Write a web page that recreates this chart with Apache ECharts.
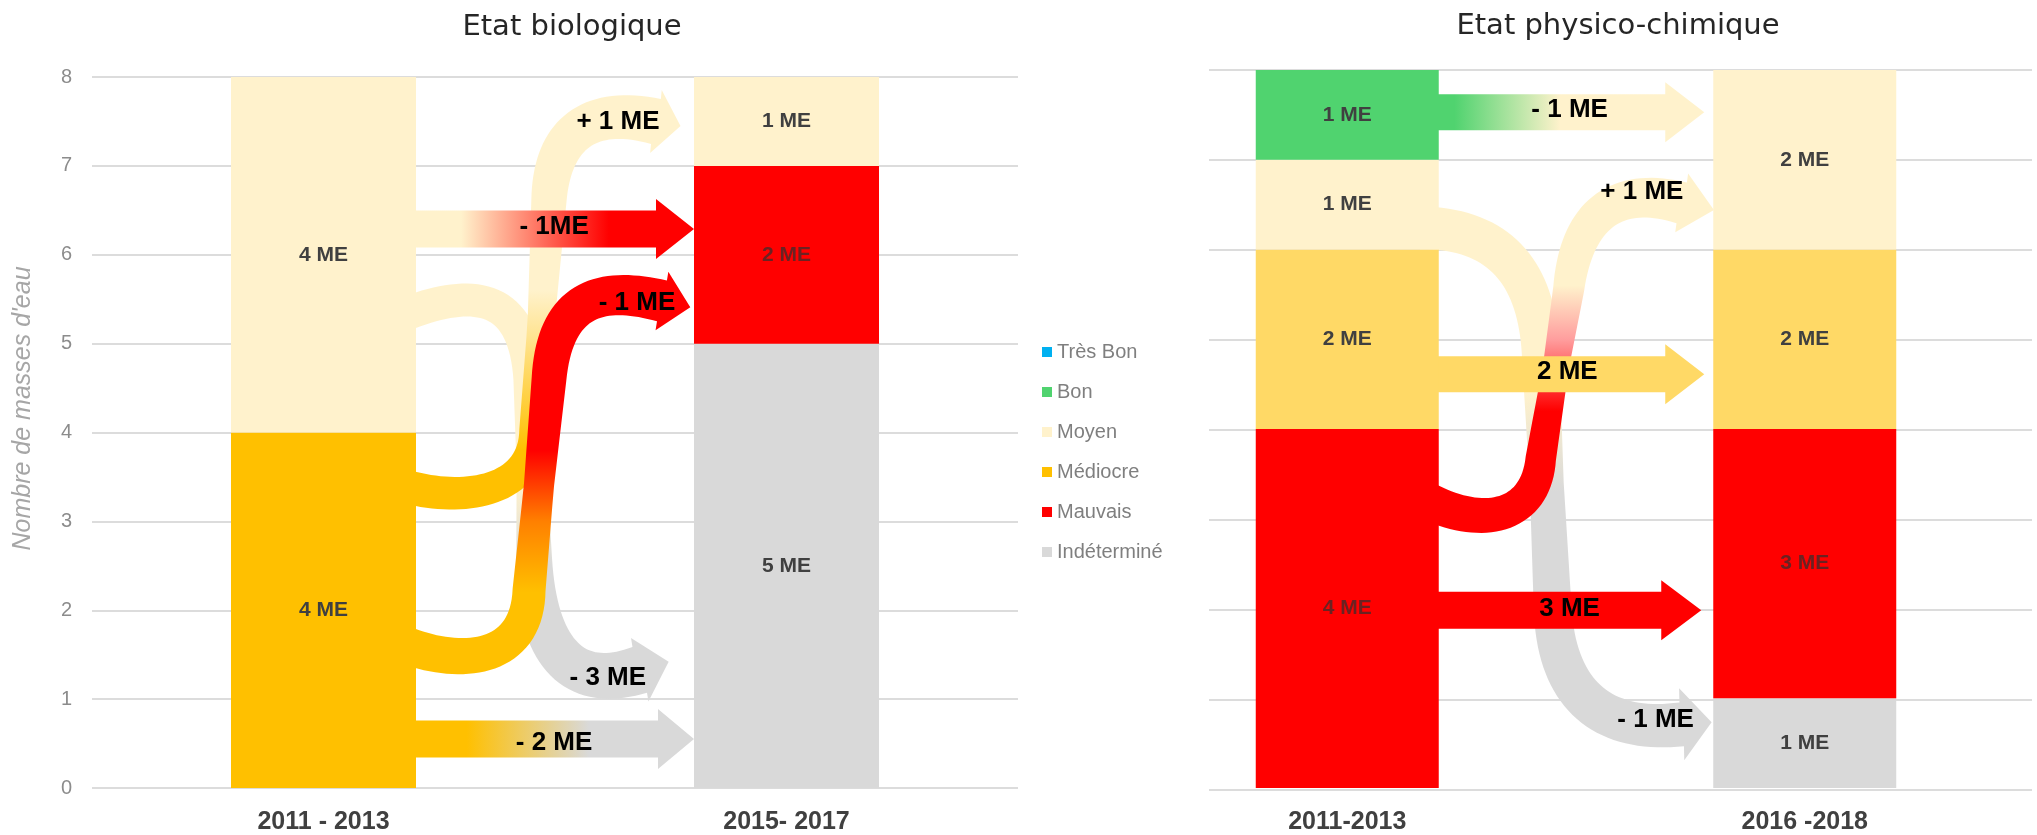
<!DOCTYPE html>
<html>
<head>
<meta charset="utf-8">
<script src="https://cdn.jsdelivr.net/npm/echarts/dist/echarts.min.js"></script>
<style>
  html, body { margin: 0; padding: 0; background: #fff; }
  #main { width: 2037px; height: 835px; }
</style>
</head>
<body>
<div id="main"></div>
<script>
// categories
var bioCategories = ['2011 - 2013', '2015- 2017'];
var physCategories = ['2011-2013', '2016 -2018'];
var classNames = ['Très Bon', 'Bon', 'Moyen', 'Médiocre', 'Mauvais', 'Indéterminé'];

// Etat biologique : nombre de masses d'eau par classe
var bioTresBon = [0, 0];
var bioBon = [0, 0];
var bioMoyen = [4, 1];
var bioMediocre = [4, 0];
var bioMauvais = [0, 2];
var bioIndetermine = [0, 5];

// Etat physico-chimique
var physTresBon = [0, 0];
var physBon = [1, 0];
var physMoyen = [1, 2];
var physMediocre = [2, 2];
var physMauvais = [4, 3];
var physIndetermine = [0, 1];

// libellés des flèches d'évolution (ordre de dessin)
var bioFlowLabels = ['- 3 ME', '+ 1 ME', '- 1 ME', '- 1ME', '- 2 ME'];
var physFlowLabels = ['- 1 ME', '+ 1 ME', '- 1 ME', '2 ME', '3 ME'];

var FONT = "'Liberation Sans', Arial, sans-serif";
var colors = {
  'Très Bon': '#00B0F0', 'Bon': '#50D36F', 'Moyen': '#FFF2CC',
  'Médiocre': '#FFC000', 'Mauvais': '#FF0000', 'Indéterminé': '#D9D9D9'
};
var CREAM = '#FFF2CC', GRAY = '#D9D9D9', YEL = '#FFC000', RED = '#FF0000';

// tracé des flèches : x en unités de catégorie (0 = barre 1, 1 = barre 2), y en nombre de ME
var bioArrows = [
  {kind: 'curve', path: [[0.16, 5.3], ['C', [0.315, 5.63], [0.433, 5.61], [0.444, 4.6]], ['L', [0.455, 2.57]], ['C', [0.461, 1.44], [0.552, 1.10], [0.683, 1.33]]],
   widths: [34, 30, 48], head: [33, 30], grad: {dir: 'y', stops: [[3.4, CREAM], [2.5, GRAY]]}, text: [0.614, 1.24]},
  {kind: 'curve', path: [[0.16, 3.42], ['C', [0.29, 3.2], [0.455, 3.3], [0.455, 4.03]], ['L', [0.487, 6.62]], ['C', [0.494, 7.30], [0.5625, 7.69], [0.718, 7.5]]],
   widths: [34, 27, 46], head: [32, 25], grad: {dir: 'y', stops: [[3.8, YEL], [5.6, CREAM]]}, text: [0.636, 7.49]},
  {kind: 'curve', path: [[0.16, 1.64], ['C', [0.29, 1.36], [0.44, 1.40], [0.444, 2.23]], ['L', [0.487, 4.6]], ['C', [0.5, 5.5], [0.595, 5.66], [0.731, 5.48]]],
   widths: [38, 30, 42], head: [30, 29], grad: {dir: 'y', stops: [[2.2, YEL], [3.0, '#FF8000'], [3.8, RED]]}, text: [0.677, 5.46]},
  {kind: 'straight', v: 6.29, body: 37, head: [30, 38], gap: 0, grad: {dir: 'x', stops: [[0.18, CREAM], [0.7, RED]]}, text: [0.498, 6.31]},
  {kind: 'straight', v: 0.55, body: 37, head: [30, 36], gap: 0, grad: {dir: 'x', stops: [[0.2, YEL], [0.63, GRAY]]}, text: [0.498, 0.51]}
];
var physArrows = [
  {kind: 'curve', path: [[0.16, 6.24], ['C', [0.336, 6.24], [0.419, 5.72], [0.423, 4.78]], ['L', [0.449, 2.0]], ['C', [0.458, 1.0], [0.565, 0.61], [0.731, 0.71]]],
   widths: [43, 34, 44], head: [36, 30], grad: {dir: 'y', stops: [[4.4, CREAM], [3.3, GRAY]]}, text: [0.674, 0.76]},
  {kind: 'curve', path: [[0.16, 3.24], ['C', [0.292, 2.87], [0.412, 3.0], [0.423, 3.67]], ['L', [0.484, 5.56]], ['C', [0.502, 6.39], [0.587, 6.72], [0.731, 6.52]]],
   widths: [38, 26, 42], head: [30, 33], grad: {dir: 'y', stops: [[4.2, RED], [5.0, '#FF9E9E'], [5.6, CREAM]]}, text: [0.644, 6.64]},
  {kind: 'straight', v: 7.53, body: 36, head: [30, 39], gap: 9, grad: {dir: 'x', stops: [[0.08, '#50D36F'], [0.47, CREAM]]}, text: [0.486, 7.56]},
  {kind: 'straight', v: 4.61, body: 36, head: [30, 39], gap: 9, grad: {dir: 'x', stops: [[0, '#FFD966'], [1, '#FFD966']]}, text: [0.481, 4.64]},
  {kind: 'straight', v: 1.98, body: 37, head: [30, 40], gap: 12, grad: {dir: 'x', stops: [[0, RED], [1, RED]]}, text: [0.486, 2.0]}
];

function curvePoints(route, P) {
  var pts = [], cur = P(route.path[0]), i, k, t, u;
  pts.push(cur);
  for (i = 1; i < route.path.length; i++) {
    var seg = route.path[i];
    if (seg[0] === 'L') {
      var b = P(seg[1]);
      for (k = 1; k <= 10; k++) {
        t = k / 10;
        pts.push([cur[0] + (b[0] - cur[0]) * t, cur[1] + (b[1] - cur[1]) * t]);
      }
      cur = b;
    } else {
      var c1 = P(seg[1]), c2 = P(seg[2]), e = P(seg[3]);
      for (k = 1; k <= 36; k++) {
        t = k / 36; u = 1 - t;
        pts.push([
          u * u * u * cur[0] + 3 * u * u * t * c1[0] + 3 * u * t * t * c2[0] + t * t * t * e[0],
          u * u * u * cur[1] + 3 * u * u * t * c1[1] + 3 * u * t * t * c2[1] + t * t * t * e[1]
        ]);
      }
      cur = e;
    }
  }
  var len = [0];
  for (i = 1; i < pts.length; i++) {
    len.push(len[i - 1] + Math.hypot(pts[i][0] - pts[i - 1][0], pts[i][1] - pts[i - 1][1]));
  }
  var total = len[len.length - 1], w = route.widths;
  function widthAt(s) {
    var f = s / total;
    return f < 0.5 ? w[0] + (w[1] - w[0]) * f * 2 : w[1] + (w[2] - w[1]) * (f - 0.5) * 2;
  }
  var left = [], right = [];
  for (i = 0; i < pts.length; i++) {
    var a = pts[Math.max(0, i - 1)], bb = pts[Math.min(pts.length - 1, i + 1)];
    var tx = bb[0] - a[0], ty = bb[1] - a[1], tl = Math.hypot(tx, ty) || 1;
    tx /= tl; ty /= tl;
    var hw = widthAt(len[i]) / 2;
    left.push([pts[i][0] - ty * hw, pts[i][1] + tx * hw]);
    right.push([pts[i][0] + ty * hw, pts[i][1] - tx * hw]);
  }
  var end = pts[pts.length - 1], prev = pts[pts.length - 4];
  var dx = end[0] - prev[0], dy = end[1] - prev[1], dl = Math.hypot(dx, dy);
  dx /= dl; dy /= dl;
  var H = route.head[0], L = route.head[1];
  var head = [[end[0] - dy * H, end[1] + dx * H], [end[0] + dx * L, end[1] + dy * L], [end[0] + dy * H, end[1] - dx * H]];
  return left.concat(head, right.reverse());
}

function gradient(x, y, x2, y2, stops) {
  return {type: 'linear', x: x, y: y, x2: x2, y2: y2, global: true,
    colorStops: stops.map(function (s) { return {offset: s[0], color: s[1]}; })};
}

function arrowRenderer(routes, labels, barW) {
  return function (params, api) {
    var r = routes[params.dataIndex];
    var c0 = api.coord([0, 0]), c1 = api.coord([1, 0]);
    var span = c1[0] - c0[0];
    function P(pt) { return [c0[0] + pt[0] * span, api.coord([0, pt[1]])[1]]; }
    var points, fill;
    if (r.kind === 'straight') {
      var y = api.coord([0, r.v])[1];
      var sx = c0[0] + barW / 2 - 6, tip = c1[0] - barW / 2 - r.gap;
      var hx = tip - r.head[1], hb = r.body / 2, H = r.head[0];
      points = [[sx, y - hb], [hx, y - hb], [hx, y - H], [tip, y], [hx, y + H], [hx, y + hb], [sx, y + hb]];
      fill = gradient(sx, 0, tip, 0, r.grad.stops);
    } else {
      points = curvePoints(r, P);
      var st = r.grad.stops;
      var ya = api.coord([0, st[0][0]])[1], yb = api.coord([0, st[st.length - 1][0]])[1];
      fill = gradient(0, ya, 0, yb, st.map(function (s) {
        return [(api.coord([0, s[0]])[1] - ya) / (yb - ya), s[1]];
      }));
    }
    var tp = P(r.text);
    return {
      type: 'group',
      children: [
        {type: 'polygon', shape: {points: points}, style: {fill: fill}},
        {type: 'text', z2: 100, style: {
          text: labels[params.dataIndex], x: tp[0], y: tp[1],
          align: 'center', verticalAlign: 'middle',
          font: 'bold 26px ' + FONT, fill: '#000'
        }}
      ]
    };
  };
}

function barSeries(name, data, axisIdx, stack, barW, color) {
  return {
    name: name, type: 'bar', stack: stack, data: data, z: 3,
    xAxisIndex: axisIdx, yAxisIndex: axisIdx, barWidth: barW,
    itemStyle: {color: color},
    label: {
      show: true, position: 'inside',
      formatter: function (p) { return p.value ? p.value + ' ME' : ''; },
      color: name === 'Mauvais' ? '#6b2222' : '#404040',
      fontFamily: FONT, fontWeight: 'bold', fontSize: 21
    }
  };
}

var series = [];
// empilement du bas vers le haut
[['Indéterminé', bioIndetermine], ['Mauvais', bioMauvais], ['Médiocre', bioMediocre],
 ['Moyen', bioMoyen], ['Bon', bioBon], ['Très Bon', bioTresBon]].forEach(function (d) {
  series.push(barSeries(d[0], d[1], 0, 'bio', 185, colors[d[0]]));
});
[['Indéterminé', physIndetermine], ['Mauvais', physMauvais], ['Médiocre', physMediocre],
 ['Moyen', physMoyen], ['Bon', physBon], ['Très Bon', physTresBon]].forEach(function (d) {
  var c = d[0] === 'Médiocre' ? '#FFD966' : colors[d[0]];
  series.push(barSeries(d[0], d[1], 1, 'phys', 183, c));
});
// flèches sous les barres : leur départ est masqué par la barre source
series.push({
  type: 'custom', xAxisIndex: 0, yAxisIndex: 0, z: 2, silent: true,
  data: bioArrows.map(function () { return [0, 0]; }),
  renderItem: arrowRenderer(bioArrows, bioFlowLabels, 185)
});
series.push({
  type: 'custom', xAxisIndex: 1, yAxisIndex: 1, z: 2, silent: true,
  data: physArrows.map(function () { return [0, 0]; }),
  renderItem: arrowRenderer(physArrows, physFlowLabels, 183)
});

var gridLine = {show: true, lineStyle: {color: '#DCDCDC', width: 2}};
var xLabel = {color: '#404040', fontFamily: FONT, fontWeight: 'bold', fontSize: 25, margin: 22};

var option = {
  animation: false,
  backgroundColor: '#fff',
  graphic: [
    {type: 'text', x: 572, y: 27, style: {text: 'Etat biologique', align: 'center', verticalAlign: 'middle',
      font: "29px 'DejaVu Sans', sans-serif", fill: '#262626'}},
    {type: 'text', x: 1618, y: 26, style: {text: 'Etat physico-chimique', align: 'center', verticalAlign: 'middle',
      font: "29px 'DejaVu Sans', sans-serif", fill: '#262626'}}
  ],
  legend: {
    orient: 'vertical', left: 1037, top: 337,
    data: classNames, icon: 'rect', itemWidth: 10, itemHeight: 10, itemGap: 20,
    selectedMode: false,
    textStyle: {color: '#7f7f7f', fontFamily: FONT, fontSize: 20}
  },
  grid: [
    {left: 92, top: 77, width: 926, height: 711},
    {left: 1118.5, top: 70, width: 915, height: 720},
    {left: 1209, top: 70, width: 823, height: 720}
  ],
  xAxis: [
    {type: 'category', gridIndex: 0, data: bioCategories, axisLine: {show: false}, axisTick: {show: false}, axisLabel: xLabel},
    {type: 'category', gridIndex: 1, data: physCategories, axisLine: {show: false}, axisTick: {show: false}, axisLabel: xLabel},
    {type: 'category', gridIndex: 2, data: physCategories, show: false}
  ],
  yAxis: [
    {type: 'value', gridIndex: 0, min: 0, max: 8, interval: 1, splitLine: gridLine,
     axisLine: {show: false}, axisTick: {show: false},
     axisLabel: {color: '#8c8c8c', fontFamily: FONT, fontSize: 20, margin: 20},
     name: "Nombre de masses d'eau", nameLocation: 'middle', nameRotate: 90, nameGap: 56,
     nameTextStyle: {color: '#a6a6a6', fontFamily: FONT, fontStyle: 'italic', fontSize: 25, padding: [0, 0, 0, 48]}},
    {type: 'value', gridIndex: 1, min: 0, max: 8, interval: 1, splitLine: {show: false},
     axisLine: {show: false}, axisTick: {show: false}, axisLabel: {show: false}},
    {type: 'value', gridIndex: 2, min: 0, max: 8, interval: 1, splitLine: gridLine,
     axisLine: {show: false}, axisTick: {show: false}, axisLabel: {show: false}}
  ],
  series: series
};

var chart = echarts.init(document.getElementById('main'));
chart.setOption(option);
</script>
</body>
</html>
